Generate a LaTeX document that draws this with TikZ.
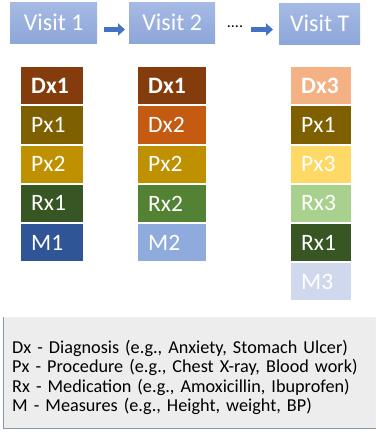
\documentclass[tikz,border=0pt]{standalone}
\usepackage{fontspec}
\setmainfont{Carlito}
\usetikzlibrary{arrows.meta}
\definecolor{visA}{HTML}{A6BAE4}
\definecolor{visB}{HTML}{8DA6D9}
\definecolor{arrblue}{HTML}{4472C4}
\definecolor{cDxa}{HTML}{843C0C}
\definecolor{cPxa}{HTML}{7F6000}
\definecolor{cPxb}{HTML}{BF9000}
\definecolor{cRxa}{HTML}{375623}
\definecolor{cMa}{HTML}{2F5597}
\definecolor{cDxb}{HTML}{C55A11}
\definecolor{cRxb}{HTML}{548235}
\definecolor{cMb}{HTML}{8FAADC}
\definecolor{cDxc}{HTML}{F4B183}
\definecolor{cPxc}{HTML}{FFD966}
\definecolor{cRxc}{HTML}{A9D18E}
\definecolor{cMc}{HTML}{CFD8EC}
\definecolor{legfill}{HTML}{EDEDED}
\definecolor{legline}{HTML}{8497B0}
\tikzset{
  visitbox/.style={rectangle, top color=visA, bottom color=visB, text=white,
    font=\fontsize{24}{28}\selectfont, inner sep=0pt, anchor=north west},
  cell/.style={rectangle, fill=#1, text=white, font=\fontsize{23.5}{26}\selectfont,
    inner xsep=10pt, inner ysep=0pt, minimum height=37.2pt, align=left, anchor=north west},
  boldcell/.style={font=\fontsize{23.5}{26}\selectfont\bfseries},
  blockarrow/.style={line width=5pt, arrblue, -{Triangle[width=12pt,length=7pt]}},
}
\begin{document}
\begin{tikzpicture}[x=1pt,y=-1pt]
\useasboundingbox (0,0) rectangle (382,434);
% visit boxes
\node[visitbox, minimum width=87pt, minimum height=41pt] (v1) at (10,2) {Visit 1};
\node[visitbox, minimum width=86pt, minimum height=41pt] (v2) at (129,2) {Visit 2};
\node[visitbox, minimum width=81pt, minimum height=41pt] (vT) at (279,3) {Visit T};
\node[font=\fontsize{16}{18}\selectfont, inner sep=0pt] (dots) at (235,26.5) {....};
\draw[blockarrow, shorten <=7pt, shorten >=4pt] (v1.east |- 0,29.5) -- (v2.west |- 0,29.5);
\draw[blockarrow, shorten <=8pt, shorten >=6pt] (dots.east |- 0,29.5) -- (vT.west |- 0,29.5);
% column 1
\node[cell=cDxa, text width=42pt, boldcell] (a1) at (21,67) {Dx1};
\node[cell=cPxa, text width=42pt] (a2) at (21,106.2) {Px1};
\node[cell=cPxb, text width=42pt] (a3) at (21,145.4) {Px2};
\node[cell=cRxa, text width=42pt] (a4) at (21,184.6) {Rx1};
\node[cell=cMa, text width=42pt] (a5) at (21,223.8) {M1};
% column 2
\node[cell=cDxa, text width=48pt, boldcell] (b1) at (138,67) {Dx1};
\node[cell=cDxb, text width=48pt] (b2) at (138,106.2) {Dx2};
\node[cell=cPxb, text width=48pt] (b3) at (138,145.4) {Px2};
\node[cell=cRxb, text width=48pt] (b4) at (138,184.6) {Rx2};
\node[cell=cMb, text width=48pt] (b5) at (138,223.8) {M2};
% column 3
\node[cell=cDxc, text width=40pt, boldcell] (c1) at (291,67) {Dx3};
\node[cell=cPxa, text width=40pt] (c2) at (291,106.2) {Px1};
\node[cell=cPxc, text width=40pt] (c3) at (291,145.4) {Px3};
\node[cell=cRxc, text width=40pt] (c4) at (291,184.6) {Rx3};
\node[cell=cRxa, text width=40pt] (c5) at (291,223.8) {Rx1};
\node[cell=cMc, text width=40pt] (c6) at (291,263) {M3};
% legend
\node[rectangle, fill=legfill, draw=white!85!legline, line width=0.8pt, anchor=north west,
  minimum width=372pt, minimum height=111pt, inner sep=0pt] (leg) at (3,317) {};
\draw[legline, line width=1pt] (leg.north west) -- (leg.south west) -- (leg.south east);
\node[anchor=west, text width=362pt, inner sep=0pt, align=left,
  font=\fontsize{18.2}{19.3}\selectfont] (legtext) at ([xshift=9pt,yshift=-4.5pt]leg.west)
  {Dx - Diagnosis (e.g., Anxiety, Stomach Ulcer)\\
   Px - Procedure (e.g., Chest X-ray, Blood work)\\
   Rx - Medication (e.g., Amoxicillin, Ibuprofen)\\
   M - Measures (e.g., Height, weight, BP)};
\end{tikzpicture}
\end{document}
